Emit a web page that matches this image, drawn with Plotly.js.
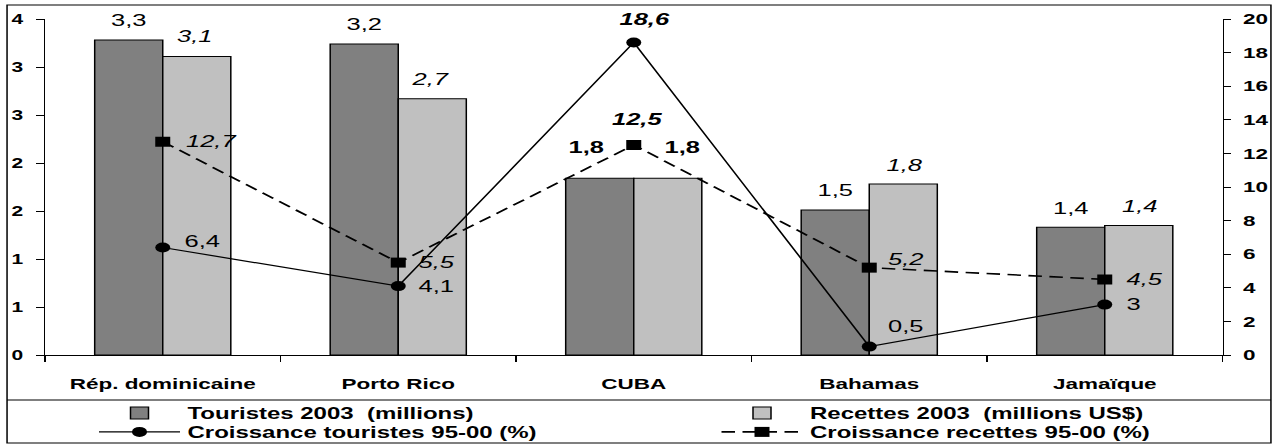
<!DOCTYPE html>
<html><head><meta charset="utf-8">
<script src="https://cdn.plot.ly/plotly-3.0.1.min.js"></script>
<style>
html,body{margin:0;padding:0;background:#fff;overflow:hidden;}
#chart{width:851px;height:445px;transform:scaleX(1.5);transform-origin:0 0;}
</style></head><body><div id="chart"></div>
<script>
// ---------------- DATA ----------------
const categories = ['Rép. dominicaine', 'Porto Rico', 'CUBA', 'Bahamas', 'Jamaïque'];
const touristes = [3.28, 3.24, 1.84, 1.51, 1.33];          // millions (bar heights)
const recettes = [3.11, 2.67, 1.84, 1.78, 1.35];           // millions US$ (bar heights)
const touristesLabels = ['3,3', '3,2', '1,8', '1,5', '1,4'];
const recettesLabels = ['3,1', '2,7', '1,8', '1,8', '1,4'];
const croissTouristes = [6.4, 4.1, 18.6, 0.5, 3];          // %
const croissRecettes = [12.7, 5.5, 12.5, 5.2, 4.5];        // %
const leftTickVals = [0, 0.5, 1, 1.5, 2, 2.5, 3, 3.5];
const leftTickText = ['0', '1', '1', '2', '2', '3', '3', '4'];
const rightTickVals = [0, 2, 4, 6, 8, 10, 12, 14, 16, 18, 20];
const seriesNames = ['Touristes 2003 \u00a0(millions)', 'Recettes 2003 \u00a0(millions US$)',
                     'Croissance touristes 95-00 (%)', 'Croissance recettes 95-00 (%)'];

// ---------------- LAYOUT / STYLE ----------------
const W = 851, H = 445;
const M = {l: 30, r: 36, t: 19, b: 90, autoexpand: false};
const pw = W - M.l - M.r, ph = H - M.t - M.b;
const FONT = 'Arial, "Liberation Sans", sans-serif';
const fmt = v => String(v).replace('.', ',');
const bargap = 0.422;
const barW = (pw / categories.length) * (1 - bargap) / 2;
const half = barW / 2;
const px2x = p => (p - M.l) / pw;            // unscaled px -> paper x
const py2y = p => (M.t + ph - p) / ph;       // screen px -> paper y

// label styles / offsets
const tourBarStyle = ['n', 'n', 'b', 'n', 'n'];
const recBarStyle = ['i', 'i', 'b', 'i', 'i'];
const tourBarDx = [0, 0, -9, 0, 0];
const recBarDx = [-1.5, -2, 10, 1, 1];
const barDy = [20, 19, 31, 20, 19];
const recBarDy = [20, 19, 31, 19, 19];
const tourLineStyle = ['n', 'n', 'bi', 'n', 'n'];
const tourLineAnchor = ['left', 'left', 'center', 'left', 'left'];
const tourLineDx = [12, 11, 7, 10, 12];
const tourLineDy = [6, 0, 23, 20, 0];
const recLineStyle = ['i', 'i', 'bi', 'i', 'i'];
const recLineAnchor = ['left', 'left', 'center', 'left', 'left'];
const recLineDx = [13, 11.5, 2.3, 10, 12];
const recLineDy = [0, 0, 26, 8, 0];

function styled(t, s) {
  if (s === 'b') return '<b>' + t + '</b>';
  if (s === 'i') return '<i>' + t + '</i>';
  if (s === 'bi') return '<b><i>' + t + '</i></b>';
  return t;
}

const traces = [
  {type: 'bar', name: seriesNames[0], x: categories, y: touristes, yaxis: 'y',
   marker: {color: '#808080', line: {color: '#000', width: 1}}, legend: 'legend'},
  {type: 'bar', name: seriesNames[1], x: categories, y: recettes, yaxis: 'y',
   marker: {color: '#c0c0c0', line: {color: '#000', width: 1}}, legend: 'legend2'},
  {type: 'scatter', mode: 'lines+markers', name: seriesNames[2], x: categories, y: croissTouristes,
   yaxis: 'y2', line: {color: '#000', width: 1.2},
   marker: {symbol: 'circle', size: 10, color: '#000'}, legend: 'legend3'},
  {type: 'scatter', mode: 'lines+markers', name: seriesNames[3], x: categories, y: croissRecettes,
   yaxis: 'y2', line: {color: '#000', width: 1.6, dash: '9px,5px'},
   marker: {symbol: 'square', size: 10, color: '#000'}, legend: 'legend4'}
];

const ann = [];
const labFont = {family: FONT, size: 17, color: '#000'};
categories.forEach((c, i) => {
  ann.push({x: c, y: touristes[i], xref: 'x', yref: 'y', text: styled(touristesLabels[i], tourBarStyle[i]),
    showarrow: false, xanchor: 'center', yanchor: 'middle', xshift: -half + tourBarDx[i], yshift: barDy[i], font: labFont});
  ann.push({x: c, y: recettes[i], xref: 'x', yref: 'y', text: styled(recettesLabels[i], recBarStyle[i]),
    showarrow: false, xanchor: 'center', yanchor: 'middle', xshift: half + recBarDx[i], yshift: recBarDy[i], font: labFont});
  ann.push({x: c, y: croissTouristes[i], xref: 'x', yref: 'y2', text: styled(fmt(croissTouristes[i]), tourLineStyle[i]),
    showarrow: false, xanchor: tourLineAnchor[i], yanchor: 'middle', xshift: tourLineDx[i], yshift: tourLineDy[i], font: labFont});
  ann.push({x: c, y: croissRecettes[i], xref: 'x', yref: 'y2', text: styled(fmt(croissRecettes[i]), recLineStyle[i]),
    showarrow: false, xanchor: recLineAnchor[i], yanchor: 'middle', xshift: recLineDx[i], yshift: recLineDy[i], font: labFont});
});

const legFont = {family: FONT, size: 16, weight: 'bold', color: '#000'};
function leg(xpx, ypx) {
  return {x: px2x(xpx), xanchor: 'left', y: py2y(ypx), yanchor: 'middle', orientation: 'v',
    font: legFont, itemwidth: 54, bgcolor: 'rgba(0,0,0,0)', borderwidth: 0,
    itemclick: false, itemdoubleclick: false};
}

const axBase = {showgrid: false, zeroline: false, linecolor: '#000', linewidth: 1, tickcolor: '#000', tickwidth: 1, automargin: false};

const layout = {
  width: W, height: H, margin: M, paper_bgcolor: '#fff', plot_bgcolor: '#fff',
  barmode: 'group', bargap: bargap, bargroupgap: 0,
  font: {family: FONT, color: '#000'},
  showlegend: true,
  xaxis: Object.assign({}, axBase, {type: 'category', showline: true, ticks: 'outside', ticklen: 6,
    tickson: 'boundaries', tickfont: {family: FONT, size: 15, weight: 'bold', color: '#000'},
    ticklabelstandoff: 15, fixedrange: true}),
  yaxis: Object.assign({}, axBase, {range: [0, 3.5], tickvals: leftTickVals, ticktext: leftTickText,
    showline: true, ticks: 'outside', ticklen: 4.7, ticklabelstandoff: 6,
    tickfont: {family: FONT, size: 14, weight: 'bold', color: '#000'}, fixedrange: true}),
  yaxis2: Object.assign({}, axBase, {range: [0, 20], tickvals: rightTickVals, overlaying: 'y', side: 'right',
    showline: true, ticks: 'outside', ticklen: 4.7, ticklabelstandoff: 5,
    tickfont: {family: FONT, size: 15, weight: 'bold', color: '#000'}, fixedrange: true}),
  yaxis3: Object.assign({}, axBase, {range: [0, 3.5], tickvals: leftTickVals, overlaying: 'y', side: 'left',
    showline: false, ticks: 'inside', ticklen: 4.7, showticklabels: false, fixedrange: true}),
  yaxis4: Object.assign({}, axBase, {range: [0, 20], tickvals: rightTickVals, overlaying: 'y', side: 'right',
    showline: false, ticks: 'inside', ticklen: 4.7, showticklabels: false, fixedrange: true}),
  legend: leg(61, 413),
  legend2: leg(476, 413),
  legend3: leg(61, 432),
  legend4: leg(476, 432),
  annotations: ann,
  shapes: [
    {type: 'rect', xref: 'paper', yref: 'paper', x0: px2x(4.7), x1: px2x(847.3), y0: py2y(443), y1: py2y(5),
     line: {color: '#000', width: 1}, fillcolor: 'rgba(0,0,0,0)'},
    {type: 'line', xref: 'paper', yref: 'paper', x0: px2x(4.7), x1: px2x(847.3), y0: py2y(400), y1: py2y(400),
     line: {color: '#000', width: 1}}
  ]
};

Plotly.newPlot('chart', traces, layout, {staticPlot: true, displayModeBar: false});
</script></body></html>
